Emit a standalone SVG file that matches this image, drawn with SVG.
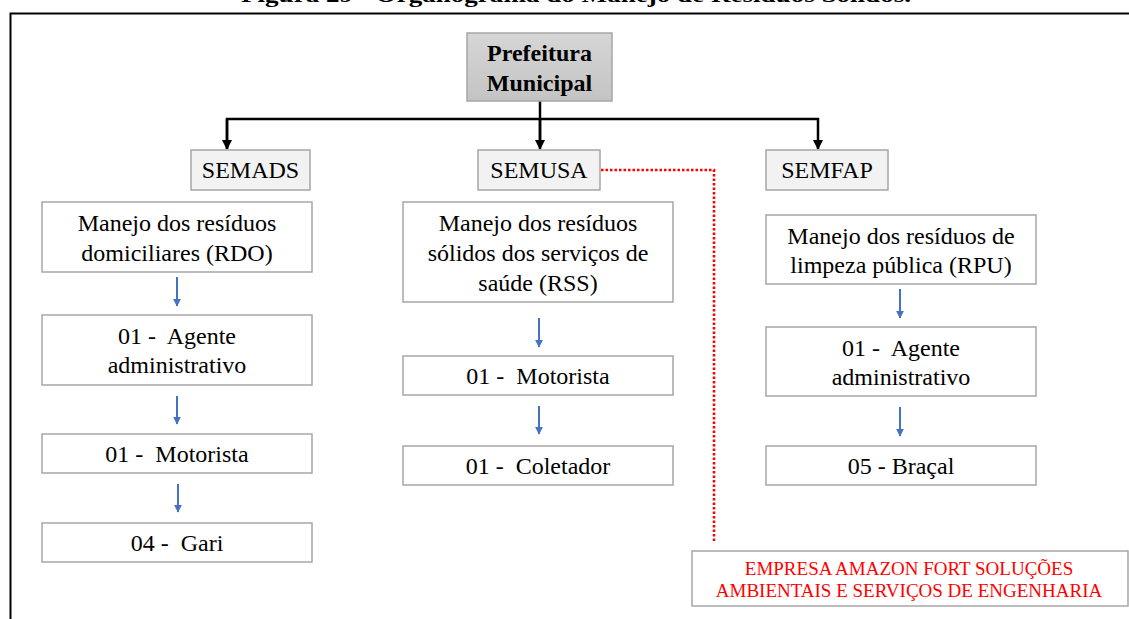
<svg xmlns="http://www.w3.org/2000/svg" width="1129" height="619" viewBox="0 0 1129 619">
<defs>
<style>
.t{font-family:"Liberation Serif","Times New Roman",serif;font-size:24px;fill:#000;text-anchor:middle}
.b{font-weight:bold}
.box{fill:#fff;stroke:#a6a6a6;stroke-width:1.5}
.sec{fill:#f2f2f2;stroke:#a6a6a6;stroke-width:1.5}
.blk{stroke:#000;stroke-width:2.5;fill:none}
.blu{stroke:#4472c4;stroke-width:2;fill:none}
.red{stroke:#ff0000;stroke-width:2.5;fill:none;stroke-dasharray:2.5 2}
.rt{font-family:"Liberation Serif","Times New Roman",serif;font-size:19px;fill:#ff0000;text-anchor:middle}
</style>
<marker id="ak" viewBox="0 0 10 10" refX="9" refY="5" markerWidth="4" markerHeight="4" orient="auto" markerUnits="strokeWidth"><path d="M0,0 L10,5 L0,10 Z" fill="#000"/></marker>
<marker id="ab" viewBox="0 0 10 10" refX="9" refY="5" markerWidth="4" markerHeight="4" orient="auto" markerUnits="strokeWidth"><path d="M0,0 L10,5 L0,10 Z" fill="#4472c4"/></marker>
<linearGradient id="gp" x1="0" y1="0" x2="0" y2="1"><stop offset="0" stop-color="#d6d6d6"/><stop offset="1" stop-color="#c4c4c4"/></linearGradient>
</defs>
<rect width="1129" height="619" fill="#fff"/>
<text class="t b" x="576" y="2" font-size="21" style="font-size:21px" textLength="670" lengthAdjust="spacingAndGlyphs">Figura 29 - Organograma do Manejo de Resíduos Sólidos.</text>
<path d="M10.5,619 V13.5 H1129" stroke="#000" stroke-width="2" fill="none"/>

<g id="connectors">
<path class="blk" d="M540,101 V147"/>
<path class="blk" d="M227,149 V119 H818 V149" marker-end="url(#ak)"/>
<path class="blk" d="M227,119 V149" marker-end="url(#ak)"/>
<path class="blk" d="M540,119 V149" marker-end="url(#ak)"/>
<path class="red" d="M601,170 H714 V543"/>
<path class="blu" d="M177,277 V306" marker-end="url(#ab)"/>
<path class="blu" d="M177,396 V424" marker-end="url(#ab)"/>
<path class="blu" d="M178,484 V512" marker-end="url(#ab)"/>
<path class="blu" d="M539,318 V347" marker-end="url(#ab)"/>
<path class="blu" d="M539,406 V434" marker-end="url(#ab)"/>
<path class="blu" d="M900,289 V318" marker-end="url(#ab)"/>
<path class="blu" d="M900,407 V436" marker-end="url(#ab)"/>
</g>

<g id="prefeitura">
<rect x="467" y="33" width="145" height="68" fill="url(#gp)" stroke="#a6a6a6" stroke-width="1.5"/>
<text class="t b" x="539.5" y="61">Prefeitura</text>
<text class="t b" x="539.5" y="91">Municipal</text>
</g>

<g id="semads">
<rect class="sec" x="191" y="150" width="119" height="40"/>
<text class="t" x="250.5" y="178">SEMADS</text>
</g>
<g id="semusa">
<rect class="sec" x="478" y="150" width="122" height="40"/>
<text class="t" x="539" y="178">SEMUSA</text>
</g>
<g id="semfap">
<rect class="sec" x="766" y="150" width="122" height="40"/>
<text class="t" x="827" y="178">SEMFAP</text>
</g>

<g id="rdo">
<rect class="box" x="42" y="202" width="270" height="70"/>
<text class="t" x="177" y="231">Manejo dos resíduos</text>
<text class="t" x="177" y="261">domiciliares (RDO)</text>
</g>
<g id="rdo-agente">
<rect class="box" x="42" y="315" width="270" height="70"/>
<text class="t" x="177" y="344" xml:space="preserve">01 -  Agente</text>
<text class="t" x="177" y="373">administrativo</text>
</g>
<g id="rdo-motorista">
<rect class="box" x="42" y="434" width="270" height="39"/>
<text class="t" x="177" y="462" xml:space="preserve">01 -  Motorista</text>
</g>
<g id="rdo-gari">
<rect class="box" x="42" y="523" width="270" height="39"/>
<text class="t" x="177" y="551" xml:space="preserve">04 -  Gari</text>
</g>

<g id="rss">
<rect class="box" x="403" y="202" width="270" height="100"/>
<text class="t" x="538" y="231">Manejo dos resíduos</text>
<text class="t" x="538" y="261">sólidos dos serviços de</text>
<text class="t" x="538" y="291">saúde (RSS)</text>
</g>
<g id="rss-motorista">
<rect class="box" x="403" y="356" width="270" height="39"/>
<text class="t" x="538" y="384" xml:space="preserve">01 -  Motorista</text>
</g>
<g id="rss-coletador">
<rect class="box" x="403" y="446" width="270" height="39"/>
<text class="t" x="538" y="474" xml:space="preserve">01 -  Coletador</text>
</g>

<g id="rpu">
<rect class="box" x="766" y="215" width="270" height="69"/>
<text class="t" x="901" y="244">Manejo dos resíduos de</text>
<text class="t" x="901" y="273">limpeza pública (RPU)</text>
</g>
<g id="rpu-agente">
<rect class="box" x="766" y="327" width="270" height="69"/>
<text class="t" x="901" y="356" xml:space="preserve">01 -  Agente</text>
<text class="t" x="901" y="385">administrativo</text>
</g>
<g id="rpu-bracal">
<rect class="box" x="766" y="446" width="270" height="39"/>
<text class="t" x="901" y="474">05 - Braçal</text>
</g>

<g id="empresa">
<rect class="box" x="692" y="551" width="436" height="55"/>
<text class="rt" x="909" y="575">EMPRESA AMAZON FORT SOLUÇÕES</text>
<text class="rt" x="909" y="597">AMBIENTAIS E SERVIÇOS DE ENGENHARIA</text>
</g>
</svg>
